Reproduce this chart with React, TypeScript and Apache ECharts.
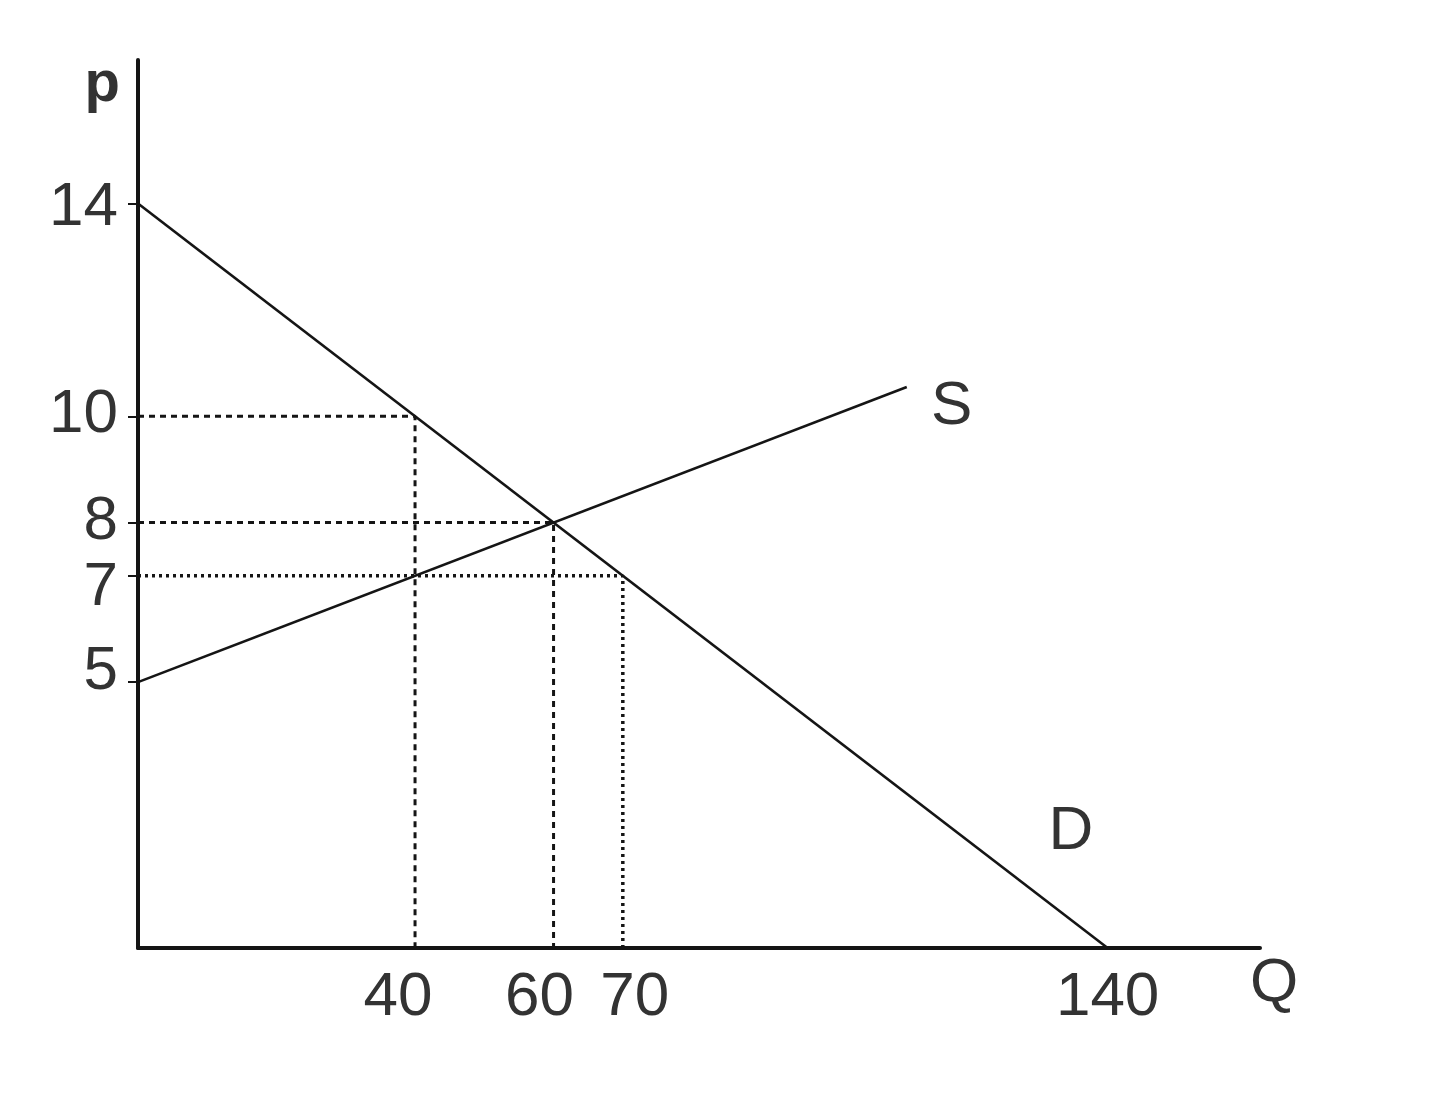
import React, { useEffect, useRef } from 'react';
import * as echarts from 'echarts';

// Demand: P = 14 - Q/10 ; Supply: P = 5 + Q/20
const demandPoints: number[][] = [[0, 14], [140, 0]];
const supplyPoints: number[][] = [[0, 5], [111, 10.55]];
const guide10: number[][] = [[0, 10], [40, 10], [40, 0]];
const guide8: number[][] = [[0, 8], [60, 8], [60, 0]];
const guide7: number[][] = [[0, 7], [70, 7], [70, 0]];
const yTickValues: number[] = [5, 7, 8, 10, 14];
const xTickValues: number[] = [40, 60, 70, 140];
const curveLabels = [
  { name: 'S', value: [117.5, 10.25] },
  { name: 'D', value: [134.7, 2.26] },
];

const FONT = '"Liberation Sans Narrow", "Liberation Sans", Arial, sans-serif';
const TEXT = '#333333';
const INK = '#151515';
const FS = 62;

export default function App() {
  const ref = useRef<HTMLDivElement>(null);
  useEffect(() => {
    if (!ref.current) return;
    const chart = echarts.init(ref.current, undefined, { renderer: 'svg' });
    const guideStyle = { color: INK, width: 3, type: [6, 5] as number[] };
    const lbl = (pad: number[]) => ({ fontFamily: FONT, fontSize: FS, color: TEXT, padding: pad });
    chart.setOption({
      animation: false,
      backgroundColor: '#ffffff',
      grid: { left: 138, right: 180, top: 60, bottom: 146, containLabel: false },
      xAxis: {
        type: 'value',
        min: 0,
        max: 162,
        name: 'Q',
        nameLocation: 'end',
        nameGap: 14,
        nameTextStyle: {
          fontFamily: FONT,
          fontSize: FS,
          color: TEXT,
          align: 'center',
          verticalAlign: 'top',
          padding: [0, 0, 0, 0],
        },
        axisLine: { show: true, onZero: true, lineStyle: { color: INK, width: 4 } },
        axisTick: { show: false },
        splitLine: { show: false },
        axisLabel: {
          customValues: xTickValues,
          margin: 14,
          fontFamily: FONT,
          fontSize: FS,
          color: TEXT,
          formatter: (v: number) => {
            if (v === 40) return '{a|40}';
            if (v === 60) return '{b|60}';
            if (v === 70) return '{c|70}';
            return String(v);
          },
          rich: {
            a: lbl([0, 34, 0, 0]),
            b: lbl([0, 28, 0, 0]),
            c: lbl([0, 0, 0, 24]),
          },
        },
      },
      yAxis: {
        type: 'value',
        min: 0,
        max: 16.7,
        name: 'p',
        nameLocation: 'end',
        nameGap: -20,
        nameTextStyle: {
          fontFamily: FONT,
          fontSize: 58,
          fontWeight: 'bold',
          color: TEXT,
          align: 'right',
          verticalAlign: 'middle',
          padding: [0, 18, 0, 0],
        },
        axisLine: { show: true, lineStyle: { color: INK, width: 4 } },
        axisTick: {
          show: true,
          customValues: yTickValues,
          length: 10,
          lineStyle: { color: INK, width: 2 },
        },
        splitLine: { show: false },
        axisLabel: {
          customValues: yTickValues,
          margin: 20,
          fontFamily: FONT,
          fontSize: FS,
          color: TEXT,
          formatter: (v: number) => {
            if (v === 10) return '{t|10}';
            if (v === 8) return '{e|8}';
            if (v === 7) return '{s|7}';
            if (v === 5) return '{f|5}';
            return String(v);
          },
          rich: {
            t: lbl([0, 0, 12, 0]),
            e: lbl([0, 0, 10, 0]),
            s: lbl([16, 0, 0, 0]),
            f: lbl([0, 0, 30, 0]),
          },
        },
      },
      series: [
        {
          name: 'Demand',
          type: 'line',
          data: demandPoints,
          symbol: 'none',
          silent: true,
          lineStyle: { color: INK, width: 2.6 },
          z: 5,
        },
        {
          name: 'Supply',
          type: 'line',
          data: supplyPoints,
          symbol: 'none',
          silent: true,
          lineStyle: { color: INK, width: 2.6 },
          z: 5,
        },
        { type: 'line', data: guide10, symbol: 'none', silent: true, lineStyle: guideStyle, z: 3 },
        { type: 'line', data: guide8, symbol: 'none', silent: true, lineStyle: guideStyle, z: 3 },
        {
          type: 'line',
          data: guide7,
          symbol: 'none',
          silent: true,
          lineStyle: { color: INK, width: 3.5, type: [3, 4] },
          z: 3,
        },
        {
          type: 'scatter',
          data: curveLabels,
          symbolSize: 0,
          silent: true,
          itemStyle: { opacity: 1, color: TEXT },
          label: {
            show: true,
            position: 'inside',
            formatter: '{b}',
            fontFamily: FONT,
            fontSize: FS,
            color: TEXT,
            opacity: 1,
          },
          z: 6,
        },
      ],
    });
    return () => chart.dispose();
  }, []);
  return (
    <div
      ref={ref}
      style={{ position: 'absolute', left: 0, top: 0, width: 1440, height: 1094, background: '#fff' }}
    />
  );
}
